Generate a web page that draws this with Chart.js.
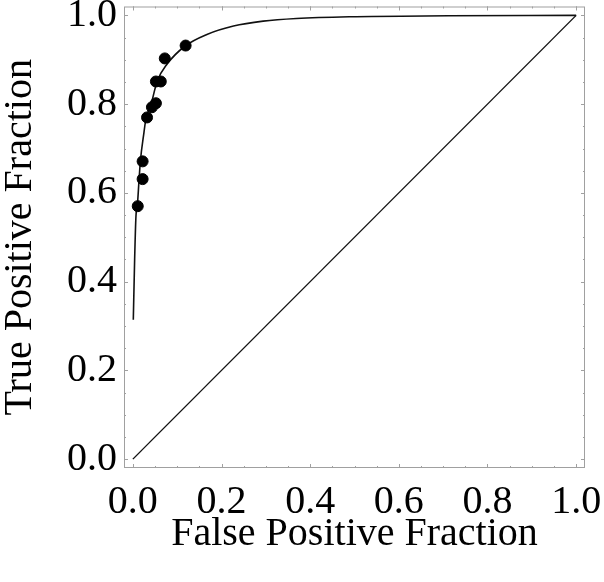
<!DOCTYPE html>
<html>
<head>
<meta charset="UTF-8">
<title>ROC curve</title>
<script src="https://cdn.jsdelivr.net/npm/chart.js"></script>
<style>
    html, body { margin: 0; padding: 0; background: #fff; }
    #box { width: 604px; height: 582px; }
</style>
</head>
<body>
<div id="box"><canvas id="rocChart"></canvas></div>
<script>
    // observed operating points
    const pointFpf = [0.119, 0.072, 0.052, 0.063, 0.052, 0.043, 0.032, 0.022, 0.022, 0.011];
    const pointTpf = [0.932, 0.903, 0.851, 0.851, 0.802, 0.793, 0.770, 0.671, 0.631, 0.570];

    // fitted curve
    const curveFpf = [0.001, 0.004, 0.007, 0.010, 0.014, 0.017, 0.025, 0.030, 0.040, 0.055, 0.077, 0.118, 0.167, 0.227, 0.294, 0.369, 0.488, 0.712, 1.0];
    const curveTpf = [0.314, 0.450, 0.548, 0.570, 0.630, 0.672, 0.736, 0.770, 0.796, 0.852, 0.890, 0.931, 0.957, 0.976, 0.987, 0.993, 0.997, 0.999, 1.0];

    // chance line
    const chanceFpf = [0, 1];
    const chanceTpf = [0, 1];

    const majorTicks = [0, 0.2, 0.4, 0.6, 0.8, 1.0];
    const minorTicks = [0, 0.05, 0.1, 0.15, 0.2, 0.25, 0.3, 0.35, 0.4, 0.45, 0.5, 0.55, 0.6, 0.65, 0.7, 0.75, 0.8, 0.85, 0.9, 0.95, 1.0];

    const toXY = (xs, ys) => xs.map((x, i) => ({ x: x, y: ys[i] }));

    // frame with inward ticks on all four sides
    const framePlugin = {
        id: 'frame',
        afterDraw(chart) {
            const ctx = chart.ctx;
            const a = chart.chartArea;
            const sx = chart.scales.x, sy = chart.scales.y;
            ctx.save();
            ctx.strokeStyle = '#a0a0a0';
            ctx.lineWidth = 1;
            ctx.strokeRect(a.left + 0.5, a.top + 0.5, a.right - a.left - 1, a.bottom - a.top - 1);
            const tick = (v, len) => {
                const px = Math.round(sx.getPixelForValue(v)) + 0.5;
                const py = Math.round(sy.getPixelForValue(v)) + 0.5;
                ctx.beginPath();
                ctx.moveTo(px, a.bottom); ctx.lineTo(px, a.bottom - len);
                ctx.moveTo(px, a.top); ctx.lineTo(px, a.top + len);
                ctx.moveTo(a.left, py); ctx.lineTo(a.left + len, py);
                ctx.moveTo(a.right, py); ctx.lineTo(a.right - len, py);
                ctx.stroke();
            };
            minorTicks.forEach(v => tick(v, 2));
            majorTicks.forEach(v => tick(v, 4));
            ctx.restore();
        }
    };

    const axisFont = { family: 'Liberation Serif', size: 40 };

    new Chart(document.getElementById('rocChart'), {
        type: 'scatter',
        data: {
            datasets: [
                {
                    data: toXY(pointFpf, pointTpf),
                    backgroundColor: '#000',
                    borderColor: '#000',
                    pointRadius: 5.5,
                    showLine: false
                },
                {
                    data: toXY(curveFpf, curveTpf),
                    borderColor: '#111',
                    borderWidth: 1.6,
                    pointRadius: 0,
                    showLine: true,
                    cubicInterpolationMode: 'monotone'
                },
                {
                    data: toXY(chanceFpf, chanceTpf),
                    borderColor: '#111',
                    borderWidth: 1.4,
                    pointRadius: 0,
                    showLine: true
                }
            ]
        },
        options: {
            responsive: true,
            maintainAspectRatio: false,
            animation: false,
            layout: { padding: { top: 5, right: 19, left: 0, bottom: 0 } },
            plugins: { legend: { display: false }, tooltip: { enabled: false } },
            scales: {
                x: {
                    type: 'linear',
                    min: -0.02,
                    max: 1.02,
                    afterBuildTicks: s => { s.ticks = majorTicks.map(v => ({ value: v })); },
                    afterFit: s => { s.height = 114; s.paddingLeft = 0; s.paddingRight = 0; },
                    grid: { display: false, drawTicks: false },
                    border: { display: false },
                    ticks: {
                        font: axisFont,
                        color: '#000',
                        padding: 10,
                        maxRotation: 0,
                        callback: v => v.toFixed(1)
                    },
                    title: {
                        display: true,
                        text: 'False Positive Fraction',
                        font: axisFont,
                        color: '#000',
                        padding: { top: 0, bottom: 24 }
                    }
                },
                y: {
                    type: 'linear',
                    min: -0.02,
                    max: 1.02,
                    afterBuildTicks: s => { s.ticks = majorTicks.map(v => ({ value: v })); },
                    afterFit: s => { s.width = 124; s.paddingTop = 0; s.paddingBottom = 0; },
                    grid: { display: false, drawTicks: false },
                    border: { display: false },
                    ticks: {
                        font: axisFont,
                        color: '#000',
                        padding: 7,
                        callback: v => v.toFixed(1)
                    },
                    title: {
                        display: true,
                        text: 'True Positive Fraction',
                        font: { family: 'Liberation Serif', size: 40, lineHeight: 1.0 },
                        color: '#000',
                        padding: { top: 0, bottom: 0 }
                    }
                }
            }
        },
        plugins: [framePlugin]
    });
</script>
</body>
</html>
